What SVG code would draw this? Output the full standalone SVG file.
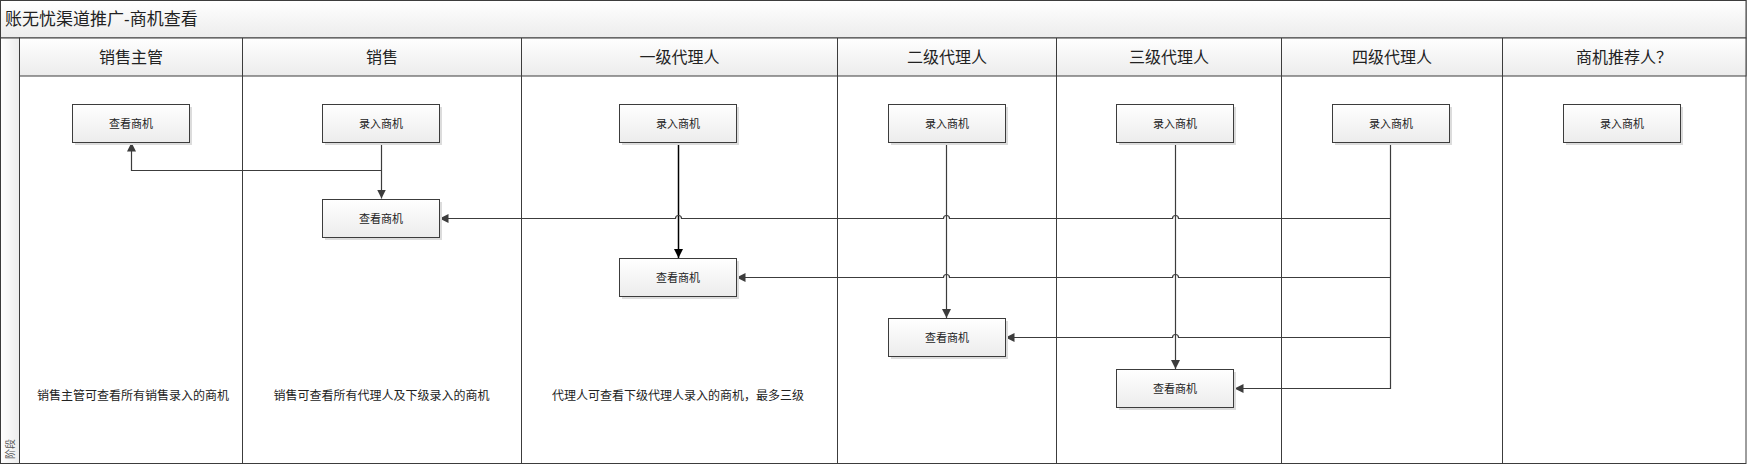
<svg xmlns="http://www.w3.org/2000/svg" width="1747" height="465" viewBox="0 0 1747 465">
<defs>
<linearGradient id="hdr" x1="0" y1="0" x2="0" y2="1"><stop offset="0" stop-color="#ffffff"/><stop offset="1" stop-color="#ececec"/></linearGradient>
<linearGradient id="stg" x1="0" y1="0" x2="1" y2="0"><stop offset="0" stop-color="#ffffff"/><stop offset="1" stop-color="#ececec"/></linearGradient>
<linearGradient id="box" x1="0" y1="0" x2="0" y2="1"><stop offset="0" stop-color="#ffffff"/><stop offset="1" stop-color="#ececec"/></linearGradient>
<marker id="ah" markerUnits="userSpaceOnUse" markerWidth="9" markerHeight="9" viewBox="0 0 9 9" refX="9" refY="4.5" orient="auto"><path d="M0,0 L9,4.5 L0,9 z" fill="#3c3c3c"/></marker>
<marker id="ahk" markerUnits="userSpaceOnUse" markerWidth="9" markerHeight="9" viewBox="0 0 9 9" refX="9" refY="4.5" orient="auto"><path d="M0,0 L9,4.5 L0,9 z" fill="#000"/></marker>
</defs>
<style>
text{font-family:"Liberation Sans","Noto Sans CJK SC",sans-serif;fill:#222}
.lane{fill:none;stroke:#3c3c3c;stroke-width:1}
.h{font-size:16px;text-anchor:middle;dominant-baseline:central}
.b rect.r{fill:url(#box);stroke:#3c3c3c;stroke-width:1}
.b rect.s{fill:#dcdcdc}
.b text{font-size:11px;text-anchor:middle;dominant-baseline:central}
.note{font-size:12px;text-anchor:middle;dominant-baseline:central}
.c{fill:none;stroke:#3c3c3c;stroke-width:1.2}
</style>
<g id="pool">
<rect x="0.5" y="0.5" width="1745.5" height="463" fill="#fff" stroke="#3c3c3c"/>
<rect x="0.5" y="0.5" width="1745.5" height="37.5" fill="url(#hdr)" stroke="#3c3c3c"/>
<text x="5" y="19" style="font-size:17px;dominant-baseline:central">账无忧渠道推广-商机查看</text>
<rect x="0.5" y="38" width="19" height="425.5" fill="url(#stg)" stroke="#3c3c3c"/>
<text transform="translate(10,449) rotate(-90)" style="font-size:10px;text-anchor:middle;dominant-baseline:central;fill:#555">阶段</text>
<rect x="19.5" y="38" width="1726.5" height="38" fill="url(#hdr)" stroke="#3c3c3c"/>
<path class="lane" d="M242.5,38V463.5M521.5,38V463.5M837.5,38V463.5M1056.5,38V463.5M1281.5,38V463.5M1502.5,38V463.5"/>
</g>
<g id="headers">
<text class="h" x="131" y="57">销售主管</text>
<text class="h" x="382" y="57">销售</text>
<text class="h" x="679.5" y="57">一级代理人</text>
<text class="h" x="947" y="57">二级代理人</text>
<text class="h" x="1169" y="57">三级代理人</text>
<text class="h" x="1392" y="57">四级代理人</text>
<text class="h" x="1624" y="57">商机推荐人？</text>
</g>
<g id="connectors">
<path class="c" d="M381.5,142.5V198.5" marker-end="url(#ah)"/>
<path class="c" d="M381.5,170.5H131.5V142.5" marker-end="url(#ah)"/>
<path d="M678.5,142.5V258" fill="none" stroke="#000" stroke-width="1.5" marker-end="url(#ahk)"/>
<path class="c" d="M946.5,142.5V318" marker-end="url(#ah)"/>
<path class="c" d="M1175.5,142.5V369" marker-end="url(#ah)"/>
<path class="c" d="M1390.5,142.5V388.5H1234.5" marker-end="url(#ah)"/>
<path class="c" d="M1390.5,218.5H1178.5A3,3 0 0 0 1172.5,218.5H949.5A3,3 0 0 0 943.5,218.5H681.5A3,3 0 0 0 675.5,218.5H439.5" marker-end="url(#ah)"/>
<path class="c" d="M1390.5,277.5H1178.5A3,3 0 0 0 1172.5,277.5H949.5A3,3 0 0 0 943.5,277.5H736.5" marker-end="url(#ah)"/>
<path class="c" d="M1390.5,337.5H1178.5A3,3 0 0 0 1172.5,337.5H1005.5" marker-end="url(#ah)"/>
</g>
<g id="n1" class="b"><rect class="s" x="75" y="107" width="117" height="38"/><rect class="r" x="72.5" y="104.5" width="117" height="38"/><text x="131" y="123.5">查看商机</text></g>
<g id="n2" class="b"><rect class="s" x="325" y="107" width="117" height="38"/><rect class="r" x="322.5" y="104.5" width="117" height="38"/><text x="381" y="123.5">录入商机</text></g>
<g id="n3" class="b"><rect class="s" x="325" y="202" width="117" height="38"/><rect class="r" x="322.5" y="199.5" width="117" height="38"/><text x="381" y="218.5">查看商机</text></g>
<g id="n4" class="b"><rect class="s" x="622" y="107" width="117" height="38"/><rect class="r" x="619.5" y="104.5" width="117" height="38"/><text x="678" y="123.5">录入商机</text></g>
<g id="n5" class="b"><rect class="s" x="622" y="261" width="117" height="38"/><rect class="r" x="619.5" y="258.5" width="117" height="38"/><text x="678" y="277.5">查看商机</text></g>
<g id="n6" class="b"><rect class="s" x="891" y="107" width="117" height="38"/><rect class="r" x="888.5" y="104.5" width="117" height="38"/><text x="947" y="123.5">录入商机</text></g>
<g id="n7" class="b"><rect class="s" x="891" y="321" width="117" height="38"/><rect class="r" x="888.5" y="318.5" width="117" height="38"/><text x="947" y="337.5">查看商机</text></g>
<g id="n8" class="b"><rect class="s" x="1119" y="107" width="117" height="38"/><rect class="r" x="1116.5" y="104.5" width="117" height="38"/><text x="1175" y="123.5">录入商机</text></g>
<g id="n9" class="b"><rect class="s" x="1119" y="372" width="117" height="38"/><rect class="r" x="1116.5" y="369.5" width="117" height="38"/><text x="1175" y="388.5">查看商机</text></g>
<g id="n10" class="b"><rect class="s" x="1335" y="107" width="117" height="38"/><rect class="r" x="1332.5" y="104.5" width="117" height="38"/><text x="1391" y="123.5">录入商机</text></g>
<g id="n11" class="b"><rect class="s" x="1566" y="107" width="117" height="38"/><rect class="r" x="1563.5" y="104.5" width="117" height="38"/><text x="1622" y="123.5">录入商机</text></g>
<g id="notes">
<text class="note" x="133" y="396">销售主管可查看所有销售录入的商机</text>
<text class="note" x="381.5" y="396">销售可查看所有代理人及下级录入的商机</text>
<text class="note" x="678" y="396">代理人可查看下级代理人录入的商机，最多三级</text>
</g>
</svg>
